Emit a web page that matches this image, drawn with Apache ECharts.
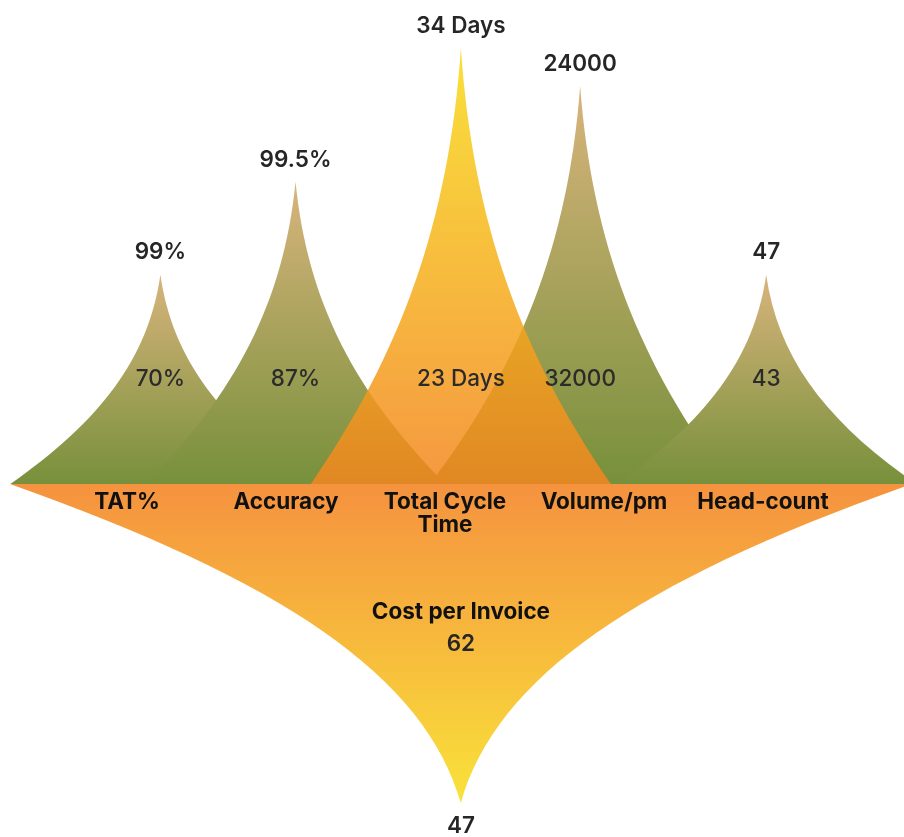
<!DOCTYPE html>
<html>
<head>
<meta charset="utf-8">
<script src="https://cdn.jsdelivr.net/npm/echarts@6/dist/echarts.min.js"></script>
<style>
  html, body { margin: 0; padding: 0; background: #ffffff; }
  #chart { width: 904px; height: 837px; }
</style>
</head>
<body>
<div id="chart"></div>
<script>
// ---- data ----
const categories   = ['TAT%', 'Accuracy', 'Total Cycle\nTime', 'Volume/pm', 'Head-count'];
const spikePos     = [0.71, 1.56, 2.60, 3.35, 4.52];      // spike centre on a 0..5 category-unit scale
const spikeHeights = [48, 69.3, 100, 91.3, 48];           // relative spike height
const topLabels    = ['99%', '99.5%', '34 Days', '24000', '47'];
const innerLabels  = ['70%', '87%', '23 Days', '32000', '43'];
const accentCategory = 'Total Cycle\nTime';

const costName     = 'Cost per Invoice';
const costValue    = '62';
const costTipLabel = '47';
const costHeight   = 100;
const costPos      = 2.60;

// ---- styling ----
const FONT = 'Inter';
const FS = 22.5;
const SPIKE = 'path://M0,10 L10,10 C7,7 5.4,4 5,0 C4.6,4 3,7 0,10 z';
const grad = (a, b) => ({ type: 'linear', x: 0, y: 0, x2: 0, y2: 1,
  colorStops: [{ offset: 0, color: a }, { offset: 1, color: b }] });

const greenItems = [], accentItems = [], innerItems = [];
categories.forEach((c, i) => {
  const item = { value: [spikePos[i], spikeHeights[i]], idx: i };
  (c === accentCategory ? accentItems : greenItems).push(item);
  innerItems.push({ value: [spikePos[i], spikeHeights[i]], idx: i });
});

const topLabel = {
  show: true, position: 'top', distance: 9,
  fontFamily: FONT, fontSize: FS, fontWeight: 600, color: '#262626', lineHeight: 26,
  formatter: p => topLabels[p.data.idx]
};

const chart = echarts.init(document.getElementById('chart'), null, { renderer: 'canvas' });
chart.setOption({
  animation: false,
  backgroundColor: '#ffffff',
  grid: [
    { left: 47.5, right: 61.5, top: 48, height: 436 },
    { left: 47.5, right: 61.5, top: 484, height: 319 }
  ],
  xAxis: [
    { type: 'category', gridIndex: 0, data: categories, z: 10,
      axisLine: { show: false }, axisTick: { show: false }, splitLine: { show: false },
      axisLabel: { margin: 6.5, fontFamily: FONT, fontSize: FS, fontWeight: 700,
                   color: '#111111', lineHeight: 23, interval: 0 } },
    { type: 'value', gridIndex: 0, min: 0, max: 5, show: false },
    { type: 'value', gridIndex: 1, min: 0, max: 5, show: false }
  ],
  yAxis: [
    { type: 'value', gridIndex: 0, min: 0, max: 100, show: false },
    { type: 'value', gridIndex: 1, min: 0, max: 100, inverse: true, show: false }
  ],
  series: [
    { // cost per invoice: inverted spike
      type: 'pictorialBar', xAxisIndex: 2, yAxisIndex: 1, z: 1,
      symbol: SPIKE, symbolSize: [902, '100%'],
      itemStyle: { color: grad('#f9e23a', '#f5923f') },
      label: { show: true, position: 'bottom', distance: 10,
               fontFamily: FONT, fontSize: FS, fontWeight: 600, color: '#262626', lineHeight: 26,
               formatter: () => costTipLabel },
      data: [[costPos, costHeight]]
    },
    { // cost per invoice caption
      type: 'pictorialBar', xAxisIndex: 2, yAxisIndex: 1, z: 5,
      symbol: 'rect', symbolSize: [10, '100%'],
      itemStyle: { color: 'rgba(0,0,0,0)' },
      label: { show: true, position: 'insideTop', distance: 112,
               formatter: () => '{a|' + costName + '}\n{b|' + costValue + '}',
               rich: {
                 a: { fontFamily: FONT, fontSize: FS, fontWeight: 700, color: '#111111', lineHeight: 32 },
                 b: { fontFamily: FONT, fontSize: FS, fontWeight: 600, color: '#262626', lineHeight: 32 }
               } },
      data: [[costPos, costHeight]]
    },
    { // green spikes
      type: 'pictorialBar', xAxisIndex: 1, yAxisIndex: 0, z: 2,
      symbol: SPIKE, symbolSize: [300, '100%'],
      itemStyle: { color: grad('#d8b47c', '#77903b') },
      label: topLabel,
      data: greenItems
    },
    { // accent (orange) spike, slightly see-through
      type: 'pictorialBar', xAxisIndex: 1, yAxisIndex: 0, z: 3,
      symbol: SPIKE, symbolSize: [300, '100%'],
      itemStyle: { color: grad('rgba(248,219,24,0.85)', 'rgba(243,134,31,0.85)') },
      label: topLabel,
      data: accentItems
    },
    { // inner labels
      type: 'pictorialBar', xAxisIndex: 1, yAxisIndex: 0, z: 6,
      symbol: 'rect', symbolSize: [10, '100%'],
      itemStyle: { color: 'rgba(0,0,0,0)' },
      label: { show: true, position: 'insideBottom', distance: 92,
               fontFamily: FONT, fontSize: FS, fontWeight: 500, color: '#2b2b2b', lineHeight: 26,
               formatter: p => innerLabels[p.data.idx] },
      data: innerItems
    }
  ]
});
</script>
</body>
</html>
